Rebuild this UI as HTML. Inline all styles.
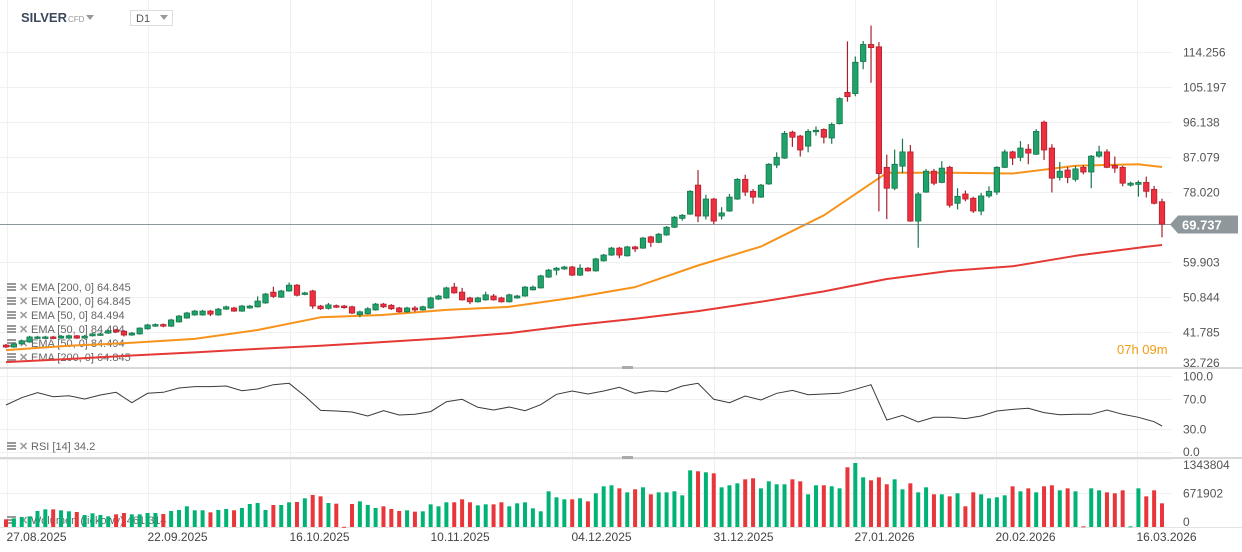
<!DOCTYPE html>
<html><head><meta charset="utf-8"><style>
html,body{margin:0;padding:0;background:#fff;}
body{width:1242px;height:552px;overflow:hidden;font-family:"Liberation Sans",sans-serif;}
svg{display:block}
svg text{font-family:"Liberation Sans",sans-serif;}
</style></head><body>
<svg id="chart" width="1242" height="552" viewBox="0 0 1242 552" xmlns="http://www.w3.org/2000/svg">
<g id="grid"></g>
<g id="legends">
  <text x="31" y="291" font-size="11" fill="#666">EMA [200,  0]  64.845</text>
  <text x="31" y="305" font-size="11" fill="#666">EMA [200,  0]  64.845</text>
  <text x="31" y="319" font-size="11" fill="#666">EMA [50,  0]  84.494</text>
  <text x="31" y="333" font-size="11" fill="#666">EMA [50,  0]  84.494</text>
  <text x="31" y="347" font-size="11" fill="#666">EMA [50,  0]  84.494</text>
  <text x="31" y="361" font-size="11" fill="#666">EMA [200,  0]  64.845</text>
  <text x="31" y="450" font-size="11" fill="#666">RSI  [14]  34.2</text>
  <text x="31" y="524" font-size="11" fill="#666">Wolumen  (tickowy)  461 314</text>
</g>
<g id="marks"></g>
<g id="header">
  <text x="21" y="22" font-size="13" font-weight="bold" fill="#3d4a5c">SILVER</text>
  <text x="68" y="22" font-size="8" fill="#999">CFD</text>
  <path d="M86 15 L94 15 L90 20 Z" fill="#999"/>
  <rect x="130.5" y="10.5" width="42" height="15" fill="#fff" stroke="#ddd"/>
  <text x="136" y="22" font-size="11" fill="#555">D1</text>
  <path d="M160 15 L168 15 L164 20 Z" fill="#999"/>
</g>
</svg>
<script>
const candleOpen=[38.4,37.9,38.7,39.2,40.2,40.2,40.5,40.2,40.2,40.8,40.2,40.8,41.0,41.5,42.3,42.0,41.0,41.3,42.6,43.3,43.7,43.3,44.4,45.4,46.2,46.2,47.2,46.2,47.7,48.0,47.2,48.0,48.3,49.3,52.1,50.8,52.4,53.9,51.6,52.4,
48.5,47.9,48.6,48.5,48.3,46.3,46.5,47.5,49.0,48.7,48.0,47.0,48.0,47.5,48.0,50.3,50.6,53.4,52.1,50.6,49.6,50.1,51.1,50.6,49.6,50.6,51.1,52.7,53.2,56.0,57.8,58.1,58.6,56.5,58.3,57.6,60.2,61.7,63.5,
61.5,63.8,63.5,66.4,65.0,66.9,68.9,71.2,72.3,79.8,71.8,76.2,71.8,73.1,76.2,81.3,78.2,76.7,80.1,85.0,86.8,93.5,92.5,89.9,93.7,94.2,92.0,95.7,103.8,103.5,111.8,116.2,115.6,84.4,79.0,
84.7,88.4,70.5,78.0,83.4,80.5,84.4,75.1,77.5,76.4,73.1,77.0,78.0,84.4,88.4,87.0,89.1,87.8,96.1,89.4,81.8,83.7,81.3,84.4,83.2,87.3,88.4,84.9,84.4,79.8,80.0,80.5,78.7,75.5];
const candleClose=[37.9,38.7,39.5,40.5,40.5,40.5,40.2,40.7,40.8,40.2,40.7,41.3,41.3,42.1,41.8,41.0,41.5,42.8,43.6,43.7,43.3,44.9,45.9,46.7,47.2,47.2,46.4,47.7,48.3,47.2,48.5,48.5,49.8,51.6,51.0,52.4,53.9,51.3,51.9,48.5,
47.8,48.8,48.2,48.1,46.7,47.0,47.8,49.0,48.3,47.8,47.0,48.0,47.5,48.3,50.6,51.1,53.2,51.9,50.1,49.6,50.6,51.4,50.1,49.6,51.4,51.1,53.4,53.4,56.3,57.8,58.3,58.6,56.5,58.3,57.6,60.7,61.7,63.5,61.7,
63.8,63.3,66.1,65.0,67.1,68.9,71.5,72.0,78.2,71.8,76.2,70.5,72.6,76.7,81.3,78.0,76.7,79.8,85.2,87.0,93.2,92.2,88.9,93.7,94.0,92.2,95.5,102.2,102.7,111.6,116.2,115.4,82.8,79.0,85.2,
88.4,70.5,77.5,83.4,80.3,84.2,74.6,76.9,76.2,73.1,77.0,78.2,84.4,88.4,86.8,89.4,88.1,93.7,88.9,81.6,83.4,81.8,84.0,83.2,87.3,88.4,84.4,84.2,80.3,80.3,80.5,78.2,75.1,69.7];
const candleHigh=[38.7,39.0,39.8,40.8,40.8,40.8,40.8,41.0,41.1,41.0,41.0,41.5,41.6,42.4,42.6,42.3,41.8,43.0,43.9,44.0,44.0,45.2,46.2,47.0,47.5,47.5,47.5,48.0,48.6,48.3,48.8,48.8,51.0,51.9,53.5,52.7,54.6,54.2,52.2,52.7,
48.8,49.3,48.9,48.8,48.6,47.3,48.2,49.3,49.3,49.0,48.3,48.3,48.5,48.6,50.9,51.4,53.5,54.5,53.2,50.9,50.9,52.2,51.6,50.9,51.7,51.4,53.7,53.8,56.6,58.1,58.6,58.9,58.9,59.3,58.6,61.0,62.0,63.8,63.8,
64.1,64.1,66.4,66.7,67.4,69.2,71.8,72.3,78.5,83.7,77.3,76.5,74.1,77.5,81.6,82.5,78.8,80.1,85.5,88.3,93.8,93.9,92.8,94.3,95.0,94.5,96.0,102.5,117.0,113.1,117.1,121.1,116.8,87.7,89.0,
91.8,90.2,78.0,84.0,84.0,86.0,84.8,79.0,78.4,76.8,77.8,79.5,84.7,89.0,88.7,91.2,90.4,94.3,96.5,90.4,85.8,84.5,84.8,85.0,87.6,90.0,89.1,87.2,84.8,80.7,81.0,82.0,79.6,76.3];
const candleLow=[37.6,37.7,38.5,39.0,40.0,40.0,39.9,40.0,40.0,40.0,40.0,40.6,40.8,41.3,41.6,40.6,40.8,41.1,42.4,43.1,43.0,43.1,44.2,45.2,46.0,46.0,45.9,46.0,47.5,47.0,47.0,47.8,48.1,49.1,50.6,50.6,52.2,51.0,51.3,47.8,
47.5,47.6,48.0,47.8,46.4,45.6,46.3,47.3,48.0,47.5,46.8,46.8,47.0,47.3,47.8,50.1,50.4,51.7,49.9,49.0,49.4,49.9,49.9,49.4,49.4,50.4,50.9,52.5,53.0,55.8,56.5,57.9,56.3,56.3,57.4,57.4,60.0,61.5,60.9,
61.3,62.5,63.3,63.8,64.8,66.7,68.7,70.6,72.1,70.2,70.9,69.7,70.9,72.9,76.0,77.0,75.0,76.5,79.9,84.2,86.6,89.7,87.2,88.3,92.6,90.6,90.5,95.5,101.4,102.8,109.8,106.3,73.0,71.0,78.5,
82.9,70.3,63.6,77.8,79.8,80.3,74.0,73.5,75.6,72.6,72.0,76.5,77.3,84.2,85.0,86.0,85.2,87.6,86.3,77.9,81.0,80.3,80.7,82.6,79.0,86.9,84.2,83.0,79.5,79.4,76.8,76.6,74.8,66.3];
const volumeK=[152,171,198,211,316,349,349,330,310,297,237,270,237,211,250,277,250,250,277,277,257,316,336,409,330,330,290,336,356,330,376,455,474,336,435,435,488,494,567,633,606,474,461,5,455,507,435,376,409,356,316,330,303,
310,448,409,488,488,547,488,428,448,448,488,409,468,488,369,310,705,587,547,547,567,507,666,804,824,764,685,745,784,646,685,685,705,626,1120,1101,1081,1061,784,824,863,942,962,764,903,844,844,942,903,646,824,824,
804,764,1180,1265,982,923,982,844,942,745,863,685,784,646,646,606,666,409,685,646,567,587,626,804,705,764,685,804,824,725,764,705,13,764,725,685,666,725,13,764,606,725,468];
const rsiEvery2=[61.8,71.5,78.1,72.8,74.1,69.7,75.0,78.5,64.9,77.2,78.5,84.2,86.0,86.0,86.8,80.7,82.9,88.6,90.4,73.7,54.8,53.9,52.6,47.4,54.4,48.7,49.6,53.1,66.2,69.3,58.8,55.3,59.2,54.4,62.3,75.9,80.3,76.3,80.3,85.1,77.2,80.7,79.4,86.8,90.4,69.3,64.9,73.7,68.4,77.2,81.1,75.4,76.3,77.2,82.5,88.6,42.1,48.2,39.5,45.6,45.6,43.9,47.4,53.9,56.1,57.5,51.8,49.1,49.6,49.6,55.3,49.6,45.6,39.9,34.2];
const emaIdx=[0,8,16,24,32,40,48,56,64,72,80,88,96,104,112,120,128,136,144,147];
const ema50=[37.1,38.2,39.0,40.0,42.3,45.6,46.2,47.5,48.3,50.6,53.4,59.0,63.9,72.0,83.0,83.0,82.8,84.8,85.2,84.5];
const ema200=[34.0,34.8,35.7,36.5,37.4,38.2,39.2,40.2,41.5,43.5,45.2,47.2,49.6,52.3,55.5,57.6,58.8,61.5,63.6,64.3];
const priceTicks=["114.256","105.197","96.138","87.079","78.020","59.903","50.844","41.785","32.726"];
const rsiTicks=["100.0","70.0","30.0","0.0"];
const volTicks=["1343804","671902","0"];
const dateLabels=["27.08.2025","22.09.2025","16.10.2025","10.11.2025","04.12.2025","31.12.2025","27.01.2026","20.02.2026","16.03.2026"];
const lastPrice=69.737;

const NS="http://www.w3.org/2000/svg";
const grid=document.getElementById('grid');
const marks=document.getElementById('marks');
function xS(i){return 6+i*(1162-6)/147;}
function yP(p){return 52+(114.256-p)*35/9.059;}
function yR(v){return 376+(100-v)*0.76;}
function yV(v){return 527-v/671902*34;}
function mk(tag,attrs,parent){const e=document.createElementNS(NS,tag);for(const k in attrs)e.setAttribute(k,attrs[k]);(parent||marks).appendChild(e);return e;}

priceTicks.forEach(t=>{const y=Math.round(yP(parseFloat(t)))+0.5;
  const l=mk('line',{x1:0,x2:1172,y1:y,y2:y,stroke:'#f0f0f0'},grid);
  
  
  const tx=mk('text',{x:1183,y:Math.min(y+4,367),'font-size':12,fill:'#555'},grid);tx.textContent=t;
  
  
});
rsiTicks.forEach(t=>{const y=Math.round(yR(parseFloat(t)))+0.5;
  const l=mk('line',{x1:0,x2:1172,y1:y,y2:y,stroke:'#f0f0f0'},grid);
  
  
  const tx=mk('text',{x:1183,y:Math.min(y+4,456),'font-size':12,fill:'#555'},grid);tx.textContent=t;
  
  
});
volTicks.forEach(t=>{const y=Math.round(yV(parseFloat(t)))+0.5;
  const l=mk('line',{x1:0,x2:1172,y1:y,y2:y,stroke:'#f0f0f0'},grid);
  
  
  const tx=mk('text',{x:1183,y:Math.min(Math.max(y+4,469),526),'font-size':12,fill:'#555'},grid);tx.textContent=t;
  
  
});
dateLabels.forEach((d,k)=>{const x=Math.round(7+k*141.3)+0.5;
  const l=mk('line',{x1:x,x2:x,y1:0,y2:527,stroke:'#f0f0f0'},grid);
  
  
  const tx=mk('text',{x:x-1,y:541,'font-size':12,fill:'#444'},grid);tx.textContent=d;
  
  
});
[368,458].forEach(y=>{
  const l=mk('line',{x1:0,x2:1242,y1:y,y2:y,stroke:'#d8d8d8','stroke-width':2},grid);
  
  
  const h=mk('rect',{x:622,y:y-2,width:11,height:3,fill:'#aaa'},grid);
  
  
});
mk('line',{x1:0,x2:1242,y1:527.5,y2:527.5,stroke:'#e4e4e4'},grid);

volumeK.forEach((v,i)=>{const up=candleClose[i]>=candleOpen[i];const y=yV(v*1000);
  const b=mk('rect',{x:xS(i)-2,y:y,width:4,height:Math.max(1,527-y),fill:up?'#00b374':'#e8363a'});
  
  
});
function line(idx,vals,color,name){const d=idx.map((i,k)=>(k?'L':'M')+xS(i).toFixed(1)+' '+yP(vals[k]).toFixed(1)).join(' ');
  const p=mk('path',{d:d,fill:'none',stroke:color,'stroke-width':2,'stroke-linejoin':'round'});
  
  
}
line(emaIdx,ema200,'#e53935','ema200-line');
line(emaIdx,ema50,'#f7931a','ema50-line');
const cy=Math.round(yP(lastPrice))+0.5;
const pl=mk('line',{x1:0,x2:1172,y1:cy,y2:cy,stroke:'#8e989c','stroke-width':1});


candleOpen.forEach((o,i)=>{const c=candleClose[i];const up=c>=o;const x=xS(i);
  const g=mk('g',{});
  
  
  mk('line',{x1:x,x2:x,y1:yP(candleHigh[i]),y2:yP(candleLow[i]),stroke:up?'#147a4c':'#a8202c','stroke-width':1.2},g);
  const t=yP(Math.max(o,c)),b=yP(Math.min(o,c));
  mk('rect',{x:x-2.7,y:t,width:5.4,height:Math.max(1.5,b-t),fill:up?'#1fa36b':'#ee2f3e',stroke:up?'#15754a':'#b3202e','stroke-width':0.8},g);
});
const rd=rsiEvery2.map((v,k)=>(k?'L':'M')+xS(Math.min(k*2,147)).toFixed(1)+' '+yR(v).toFixed(1)).join(' ');
const rl=mk('path',{d:rd,fill:'none',stroke:'#3a3a3a','stroke-width':1});


const tag=mk('g',{});


mk('path',{d:`M1170 ${cy} L1178 ${cy-9} L1238 ${cy-9} L1238 ${cy+9} L1178 ${cy+9} Z`,fill:'#8e979b'},tag);
const tt=mk('text',{x:1182,y:cy+5,'font-size':13,'font-weight':'bold',fill:'#fff'},tag);tt.textContent=lastPrice.toFixed(3);
const cd=mk('text',{x:1117,y:354,'font-size':13,fill:'#f39c12'});cd.textContent='07h 09m';


[287,301,315,329,343,357,446,520].forEach(y=>{
  const ic=mk('g',{},document.getElementById('legends'));
  
  
  mk('rect',{x:7,y:y-4,width:9,height:2,fill:'#999'},ic);
  mk('rect',{x:7,y:y-1,width:9,height:2,fill:'#999'},ic);
  mk('rect',{x:7,y:y+2,width:9,height:2,fill:'#999'},ic);
  const x=mk('text',{x:19,y:y+4,'font-size':11,'font-weight':'bold',fill:'#999'},ic);x.textContent='✕';
});
</script>
</body></html>
